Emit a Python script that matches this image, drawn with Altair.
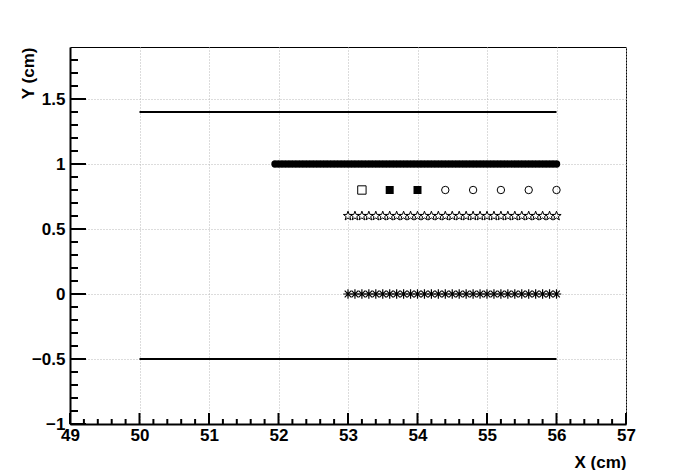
import math
import altair as alt
import pandas as pd

# ---- data ----
line_y = [1.4, -0.5]
line_x_start = [50, 50]
line_x_end = [56, 56]

dense_x = [51.95,
           52.0, 52.05, 52.1, 52.15, 52.2, 52.25, 52.3, 52.35, 52.4, 52.45,
           52.5, 52.55, 52.6, 52.65, 52.7, 52.75, 52.8, 52.85, 52.9, 52.95,
           53.0, 53.05, 53.1, 53.15, 53.2, 53.25, 53.3, 53.35, 53.4, 53.45,
           53.5, 53.55, 53.6, 53.65, 53.7, 53.75, 53.8, 53.85, 53.9, 53.95,
           54.0, 54.05, 54.1, 54.15, 54.2, 54.25, 54.3, 54.35, 54.4, 54.45,
           54.5, 54.55, 54.6, 54.65, 54.7, 54.75, 54.8, 54.85, 54.9, 54.95,
           55.0, 55.05, 55.1, 55.15, 55.2, 55.25, 55.3, 55.35, 55.4, 55.45,
           55.5, 55.55, 55.6, 55.65, 55.7, 55.75, 55.8, 55.85, 55.9, 55.95,
           56.0]
dense_y = 1.0

open_square_x = [53.2]
filled_square_x = [53.6, 54.0]
open_circle_x = [54.4, 54.8, 55.2, 55.6, 56.0]
row08_y = 0.8

star_x = [53.0, 53.1, 53.2, 53.3, 53.4, 53.5, 53.6, 53.7, 53.8, 53.9,
          54.0, 54.1, 54.2, 54.3, 54.4, 54.5, 54.6, 54.7, 54.8, 54.9,
          55.0, 55.1, 55.2, 55.3, 55.4, 55.5, 55.6, 55.7, 55.8, 55.9, 56.0]
star_y = 0.6
aster_x = star_x
aster_y = 0.0

x_major = [49, 50, 51, 52, 53, 54, 55, 56, 57]
x_minor = [49.2, 49.4, 49.6, 49.8, 50.2, 50.4, 50.6, 50.8, 51.2, 51.4, 51.6, 51.8,
           52.2, 52.4, 52.6, 52.8, 53.2, 53.4, 53.6, 53.8, 54.2, 54.4, 54.6, 54.8,
           55.2, 55.4, 55.6, 55.8, 56.2, 56.4, 56.6, 56.8]
y_major = [-1, -0.5, 0, 0.5, 1, 1.5]
y_minor = [-0.9, -0.8, -0.7, -0.6, -0.4, -0.3, -0.2, -0.1, 0.1, 0.2, 0.3, 0.4,
           0.6, 0.7, 0.8, 0.9, 1.1, 1.2, 1.3, 1.4, 1.6, 1.7, 1.8]

# ---- styles ----
W, H = 556, 377
FONT = "Liberation Sans"
FS = 17

xs = alt.Scale(domain=[49, 57], nice=False, zero=False)
ys = alt.Scale(domain=[-1, 1.9], nice=False, zero=False)

xaxis = alt.Axis(values=x_major, format="~g", grid=True, gridColor="#b8b8b8",
                 gridDash=[1, 2], gridWidth=1, ticks=False, labelPadding=3,
                 domainColor="black", domainWidth=2, labelFont=FONT,
                 labelFontWeight="bold", labelFontSize=FS, labelColor="black",
                 title="X (cm)", titleFont=FONT, titleFontWeight="bold",
                 titleFontSize=FS, titleColor="black", titleAnchor="end",
                 titleY=43, titleBaseline="alphabetic", labelFlush=False,
                 labelOverlap=False)
yaxis = alt.Axis(values=y_major, format="~g", grid=True, gridColor="#b8b8b8",
                 gridDash=[1, 2], gridWidth=1, ticks=False, labelPadding=5,
                 domainColor="black", domainWidth=2, labelFont=FONT,
                 labelFontWeight="bold", labelFontSize=FS, labelColor="black",
                 title="Y (cm)", titleFont=FONT, titleFontWeight="bold",
                 titleFontSize=FS, titleColor="black", titleAnchor="end",
                 titleX=-37, titleBaseline="alphabetic", labelFlush=False,
                 labelOverlap=False)

X = lambda f: alt.X(f, type="quantitative", scale=xs, axis=xaxis)
Y = lambda f: alt.Y(f, type="quantitative", scale=ys, axis=yaxis)

# star path
pts = []
for i in range(10):
    r = 1.0 if i % 2 == 0 else 0.4
    a = -math.pi / 2 + i * math.pi / 5
    pts.append(f"{r*math.cos(a):.3f},{r*math.sin(a):.3f}")
star_path = "M" + "L".join(pts) + "Z"
aster_path = "M-1,0L1,0M0,-1L0,1M-0.7,-0.7L0.7,0.7M-0.7,0.7L0.7,-0.7"

# ---- layers ----
lines = alt.Chart(pd.DataFrame({"x": line_x_start, "x2": line_x_end, "y": line_y})).mark_rule(
    color="black", strokeWidth=2).encode(x=X("x"), x2="x2", y=Y("y"))

dense = alt.Chart(pd.DataFrame({"x": dense_x, "y": [dense_y] * len(dense_x)})).mark_point(
    shape="circle", filled=True, color="black", size=55, opacity=1).encode(x=X("x"), y=Y("y"))

osq = alt.Chart(pd.DataFrame({"x": open_square_x, "y": [row08_y] * len(open_square_x)})).mark_point(
    shape="square", filled=False, color="black", size=70, strokeWidth=1, opacity=1).encode(x=X("x"), y=Y("y"))

fsq = alt.Chart(pd.DataFrame({"x": filled_square_x, "y": [row08_y] * len(filled_square_x)})).mark_point(
    shape="square", filled=True, color="black", size=64, opacity=1).encode(x=X("x"), y=Y("y"))

oci = alt.Chart(pd.DataFrame({"x": open_circle_x, "y": [row08_y] * len(open_circle_x)})).mark_point(
    shape="circle", filled=False, color="black", size=55, strokeWidth=1, opacity=1).encode(x=X("x"), y=Y("y"))

stars = alt.Chart(pd.DataFrame({"x": star_x, "y": [star_y] * len(star_x)})).mark_point(
    shape=star_path, filled=False, color="black", size=95, strokeWidth=1, opacity=1).encode(x=X("x"), y=Y("y"))

asters = alt.Chart(pd.DataFrame({"x": aster_x, "y": [aster_y] * len(aster_x)})).mark_point(
    shape=aster_path, filled=False, color="black", size=90, strokeWidth=1.2, opacity=1).encode(x=X("x"), y=Y("y"))

ytick_major = alt.Chart(pd.DataFrame({"y": y_major})).mark_rule(color="black", strokeWidth=2).encode(
    y=Y("y"), x=alt.value(0), x2=alt.value(16))
ytick_minor = alt.Chart(pd.DataFrame({"y": y_minor})).mark_rule(color="black", strokeWidth=2).encode(
    y=Y("y"), x=alt.value(0), x2=alt.value(8))
xtick_major = alt.Chart(pd.DataFrame({"x": x_major})).mark_rule(color="black", strokeWidth=2).encode(
    x=X("x"), y=alt.value(H), y2=alt.value(H - 11))
xtick_minor = alt.Chart(pd.DataFrame({"x": x_minor})).mark_rule(color="black", strokeWidth=2).encode(
    x=X("x"), y=alt.value(H), y2=alt.value(H - 5))

chart = alt.layer(
    lines, dense, osq, fsq, oci, stars, asters,
    ytick_major, ytick_minor, xtick_major, xtick_minor,
).properties(
    width=W, height=H, autosize="none",
    padding={"left": 62, "top": 39, "right": 60, "bottom": 46},
    background="white",
).configure_view(stroke="black", strokeWidth=1)

chart.save("out.html", embed_options={"renderer": "svg", "actions": False})
